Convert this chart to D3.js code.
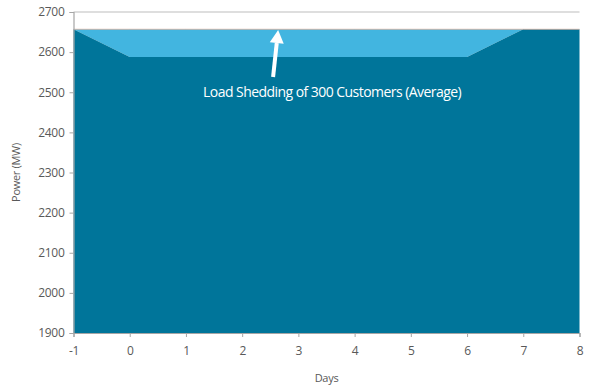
<!DOCTYPE html>
<html>
<head>
<meta charset="utf-8">
<script src="https://cdn.jsdelivr.net/npm/d3@7"></script>
<style>
  html, body { margin: 0; padding: 0; background: #fff; }
  svg { display: block; }
  text { font-family: "Open Sans", "Noto Sans", sans-serif; }
</style>
</head>
<body>
<svg id="chart" width="592" height="387"></svg>
<script>
// Days on the horizontal axis
const days = [-1, 0, 1, 2, 3, 4, 5, 6, 7, 8];
// Supplied power with load shedding (MW)
const shedPower = [2657, 2588, 2588, 2588, 2588, 2588, 2588, 2588, 2657, 2657];
// Demand without shedding (MW)
const fullPower = [2657, 2657, 2657, 2657, 2657, 2657, 2657, 2657, 2657, 2657];
const yTicks = [1900, 2000, 2100, 2200, 2300, 2400, 2500, 2600, 2700];
const xTicks = [-1, 0, 1, 2, 3, 4, 5, 6, 7, 8];
const annotation = "Load Shedding of 300 Customers (Average)";
// Arrow from label up to the demand level: [day, MW]
const arrowFrom = [2.55, 2538];
const arrowTo = [2.64, 2655];
const labelAt = [3.6, 2500];

const W = 592, H = 387;
const margin = { top: 12, right: 12.5, bottom: 54, left: 73.5 };
const svg = d3.select("#chart");

const x = d3.scaleLinear().domain([-1, 8]).range([margin.left, W - margin.right]);
const y = d3.scaleLinear().domain([1900, 2700]).range([H - margin.bottom, margin.top]);

const rows = days.map((d, i) => ({ d, shed: shedPower[i], full: fullPower[i] }));

// Light band: shed amount between the two curves
svg.append("path")
  .datum(rows)
  .attr("fill", "#42b5e0")
  .attr("d", d3.area().x(r => x(r.d)).y0(r => y(r.shed)).y1(r => y(r.full)));

// Dark area: supplied power
svg.append("path")
  .datum(rows)
  .attr("fill", "#00759a")
  .attr("d", d3.area().x(r => x(r.d)).y0(y(1900)).y1(r => y(r.shed)));

// Thin demand line on top
svg.append("path")
  .datum(rows)
  .attr("fill", "none")
  .attr("stroke", "#d9ab98")
  .attr("stroke-width", 0.8)
  .attr("d", d3.line().x(r => x(r.d)).y(r => y(r.full)));

// Top frame line
svg.append("line")
  .attr("x1", x(-1)).attr("x2", x(8))
  .attr("y1", y(2700)).attr("y2", y(2700))
  .attr("stroke", "#bdbdbd").attr("stroke-width", 1);

// Axes (plain hyphen for negatives)
const fmt = d => String(d);
const yAxis = svg.append("g")
  .attr("transform", `translate(${margin.left},0)`)
  .call(d3.axisLeft(y).tickValues(yTicks).tickSize(4).tickPadding(5).tickFormat(fmt));
const xAxis = svg.append("g")
  .attr("transform", `translate(0,${H - margin.bottom})`)
  .call(d3.axisBottom(x).tickValues(xTicks).tickSize(4).tickPadding(9).tickFormat(fmt));

[yAxis, xAxis].forEach(g => {
  g.select(".domain").attr("stroke", "#a6a6a6").attr("stroke-width", 1.2);
  g.selectAll(".tick line").attr("stroke", "#a6a6a6");
  g.selectAll(".tick text")
    .attr("fill", "#595959")
    .style("font-size", "12px")
    .style("font-family", '"Open Sans", sans-serif')
    .attr("letter-spacing", "-0.3px");
});

// Axis titles
svg.append("text")
  .attr("x", (margin.left + W - margin.right) / 2)
  .attr("y", 382)
  .attr("text-anchor", "middle")
  .attr("fill", "#595959")
  .style("font-size", "11px")
  .attr("letter-spacing", "-0.3px")
  .text("Days");

svg.append("text")
  .attr("transform", `translate(20,${(margin.top + H - margin.bottom) / 2}) rotate(-90)`)
  .attr("text-anchor", "middle")
  .attr("fill", "#595959")
  .style("font-size", "11px")
  .attr("letter-spacing", "-0.3px")
  .text("Power (MW)");

// Annotation arrow
const ax0 = x(arrowFrom[0]), ay0 = y(arrowFrom[1]);
const ax1 = x(arrowTo[0]), ay1 = y(arrowTo[1]);
const ang = Math.atan2(ay1 - ay0, ax1 - ax0);
const headLen = 13, headHalf = 7;
const bx = ax1 - headLen * Math.cos(ang), by = ay1 - headLen * Math.sin(ang);
const px = -Math.sin(ang), py = Math.cos(ang);
svg.append("line")
  .attr("x1", ax0).attr("y1", ay0).attr("x2", bx).attr("y2", by)
  .attr("stroke", "#fff").attr("stroke-width", 4);
svg.append("path")
  .attr("fill", "#fff")
  .attr("d", `M${ax1},${ay1} L${bx + px * headHalf},${by + py * headHalf} L${bx - px * headHalf},${by - py * headHalf} Z`);

// Annotation label
svg.append("text")
  .attr("x", x(labelAt[0]))
  .attr("y", y(labelAt[1]))
  .attr("dy", "0.35em")
  .attr("text-anchor", "middle")
  .attr("fill", "#fff")
  .style("font-size", "14px")
  .attr("letter-spacing", "-0.55px")
  .text(annotation);
</script>
</body>
</html>
